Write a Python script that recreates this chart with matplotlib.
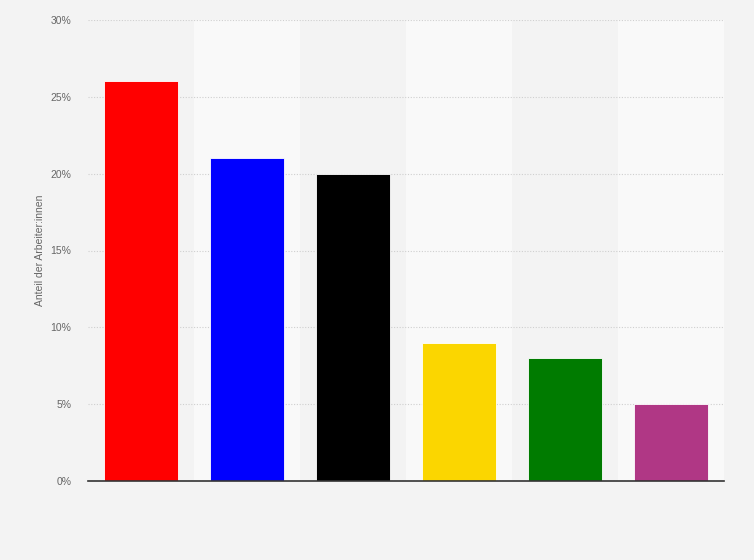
import matplotlib.pyplot as plt
from matplotlib.ticker import FuncFormatter

plt.rcParams['font.family'] = ['Liberation Sans', 'DejaVu Sans']

# Werte
categories = ['A', 'B', 'C', 'D', 'E', 'F']
values = [26, 21, 20, 9, 8, 5]
bar_colors = ['#ff0000', '#0000ff', '#000000', '#fbd600', '#007b00', '#b03785']
y_ticks = [0, 5, 10, 15, 20, 25, 30]

fig = plt.figure(figsize=(7.54, 5.6), dpi=100, facecolor='#f3f3f3')
ax = fig.add_axes([88 / 754, 79 / 560, 636 / 754, 461 / 560])
ax.set_facecolor('#f3f3f3')

x = list(range(len(categories)))
for i in x:
    if i % 2 == 1:
        ax.axvspan(i - 0.5, i + 0.5, color='#f9f9f9', zorder=0, lw=0)

ax.bar(x, values, width=0.69, color=bar_colors, edgecolor='#ffffff', linewidth=0.6, zorder=3)

ax.set_xlim(-0.5, len(categories) - 0.5)
ax.set_ylim(0, 30)
ax.set_yticks(y_ticks)
ax.yaxis.set_major_formatter(FuncFormatter(lambda v, p: f'{v:.0f}%'))
ax.set_xticks([])
ax.grid(axis='y', color='#cfcfcf', linestyle=(0, (1, 1.5)), linewidth=0.8, zorder=1)
ax.tick_params(axis='y', length=0, labelsize=7.5, labelcolor='#666666', pad=12)

for side in ['top', 'right', 'left']:
    ax.spines[side].set_visible(False)
ax.spines['bottom'].set_color('#333333')
ax.spines['bottom'].set_linewidth(1.2)
ax.spines['bottom'].set_zorder(4)

ax.set_ylabel('Anteil der Arbeiter:innen', fontsize=7.5, color='#666666')
ax.yaxis.set_label_coords(-0.068, 0.5)

plt.savefig('out.png', dpi=100, facecolor=fig.get_facecolor())
